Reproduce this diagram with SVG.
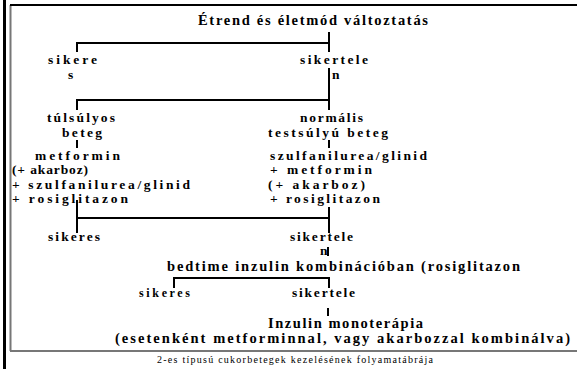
<svg xmlns="http://www.w3.org/2000/svg" width="577" height="369" viewBox="0 0 577 369">
<style>
.t{font-family:"Liberation Serif","Times New Roman",serif;font-weight:bold;font-size:13.5px;fill:#000}
.b{font-size:14.5px}
.s{font-size:12px}
.c{font-family:"Liberation Serif","Times New Roman",serif;font-size:10px;fill:#000}
.ln{fill:none;stroke:#000;stroke-width:2}
</style>
<rect width="577" height="369" fill="#fff"/>
<g id="frame">
<line x1="4.5" y1="0" x2="4.5" y2="369" stroke="#000" stroke-width="3"/>
<line x1="10.5" y1="5" x2="10.5" y2="351" stroke="#777" stroke-width="2"/>
<line x1="10" y1="5" x2="577" y2="5" stroke="#000" stroke-width="2"/>
<line x1="10" y1="351" x2="577" y2="351" stroke="#777" stroke-width="2"/>
</g>
<g id="connectors" class="ln">
<path d="M77,52 V43 H329 M329,32 V52"/>
<path d="M329,68 V110 M77,110 V100 H329"/>
<path d="M77,140 V148 M329,140 V148"/>
<path d="M77,200 V233 M77,218 H329 M329,207 V233"/>
<path d="M328,247 V256"/>
<path d="M174,288 V278 H329 V288"/>
<path d="M328,308 V316"/>
</g>
<g id="n-start"><text class="t b" x="198" y="25" textLength="230" lengthAdjust="spacing">Étrend és életmód változtatás</text></g>
<g id="n-sikeres1"><text class="t" x="48" y="64" textLength="49" lengthAdjust="spacing">sikere</text><text class="t" x="68" y="79" textLength="8" lengthAdjust="spacing">s</text></g>
<g id="n-sikertelen1"><text class="t" x="300" y="64" textLength="68" lengthAdjust="spacing">sikertele</text><text class="t" x="332" y="79" textLength="8" lengthAdjust="spacing">n</text></g>
<g id="n-tulsulyos"><text class="t" x="47" y="122" textLength="68" lengthAdjust="spacing">túlsúlyos</text><text class="t" x="62" y="137" textLength="40" lengthAdjust="spacing">beteg</text></g>
<g id="n-normalis"><text class="t" x="300" y="122" textLength="63" lengthAdjust="spacing">normális</text><text class="t" x="268" y="137" textLength="120" lengthAdjust="spacing">testsúlyú beteg</text></g>
<g id="n-therapy-left">
<text class="t" x="35" y="160" textLength="85" lengthAdjust="spacing">metformin</text>
<text class="t" x="12" y="174" textLength="76" lengthAdjust="spacing">(+ akarboz)</text>
<text class="t" x="12" y="189" textLength="178" lengthAdjust="spacing">+ szulfanilurea/glinid</text>
<text class="t" x="12" y="203" textLength="116" lengthAdjust="spacing">+ rosiglitazon</text>
</g>
<g id="n-therapy-right">
<text class="t" x="270" y="160" textLength="157" lengthAdjust="spacing">szulfanilurea/glinid</text>
<text class="t" x="270" y="174" textLength="102" lengthAdjust="spacing">+ metformin</text>
<text class="t" x="268" y="189" textLength="97" lengthAdjust="spacing">(+ akarboz)</text>
<text class="t" x="270" y="203" textLength="110" lengthAdjust="spacing">+ rosiglitazon</text>
</g>
<g id="n-sikeres2"><text class="t" x="48" y="241" textLength="52" lengthAdjust="spacing">sikeres</text></g>
<g id="n-sikertelen2"><text class="t" x="290" y="241" textLength="63" lengthAdjust="spacing">sikertele</text><text class="t" x="320" y="255" textLength="7" lengthAdjust="spacing">n</text></g>
<g id="n-bedtime"><text class="t b" x="167" y="271" textLength="353" lengthAdjust="spacing">bedtime inzulin kombinációban (rosiglitazon</text></g>
<g id="n-sikeres3"><text class="t s" x="139" y="297" textLength="51" lengthAdjust="spacing">sikeres</text></g>
<g id="n-sikertelen3"><text class="t" x="292" y="297" textLength="63" lengthAdjust="spacing">sikertele</text></g>
<g id="n-inzulin">
<text class="t b" x="268" y="328" textLength="155" lengthAdjust="spacing">Inzulin monoterápia</text>
<text class="t b" x="115" y="343" textLength="455" lengthAdjust="spacing">(esetenként metforminnal, vagy akarbozzal kombinálva)</text>
</g>
<text class="c" x="157" y="363" textLength="276" lengthAdjust="spacing">2-es típusú cukorbetegek kezelésének folyamatábrája</text>
</svg>
